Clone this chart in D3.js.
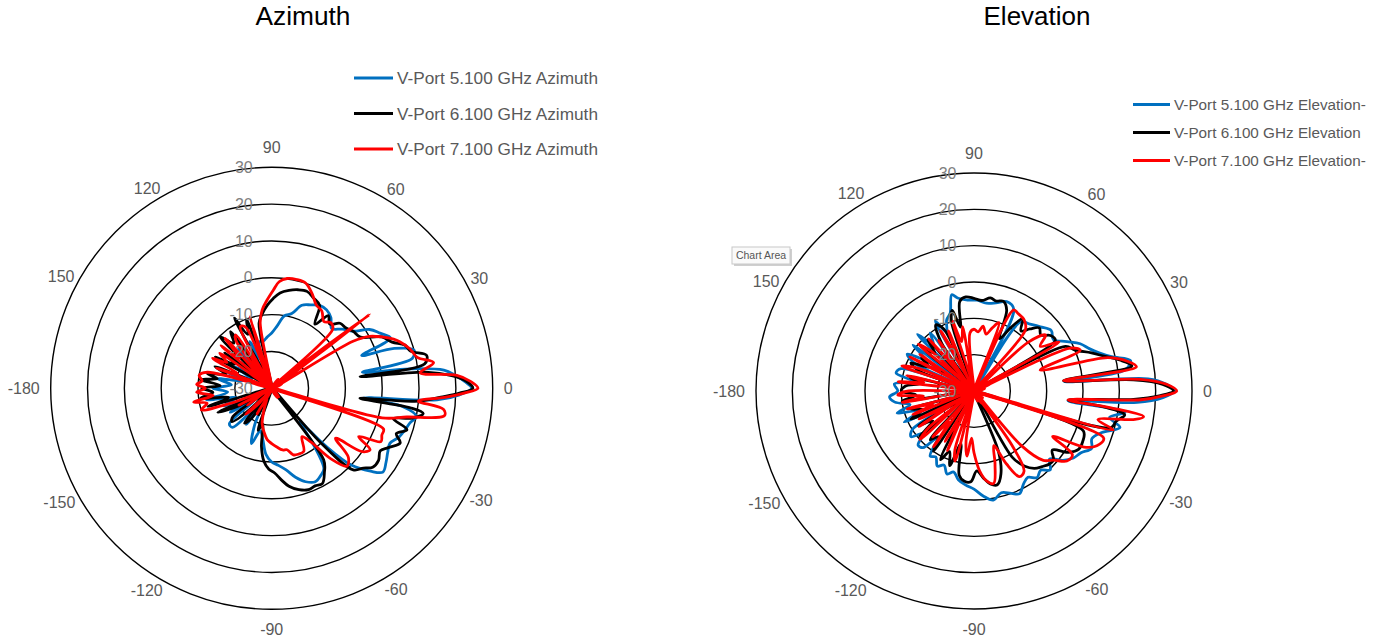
<!DOCTYPE html>
<html><head><meta charset="utf-8">
<script src="https://cdn.jsdelivr.net/npm/d3@7"></script>
<style>
body{margin:0;background:#fff;}
svg{display:block;}
text{font-family:"Liberation Sans",Arial,sans-serif;}
</style>
</head><body>
<svg id="chart" width="1385" height="640"></svg>
<script>
// ---------- tick labels ----------
const radialTicks = [-30, -20, -10, 0, 10, 20, 30];
const angleTicks = [0, 30, 60, 90, 120, 150, -180, -150, -120, -90, -60, -30];
const titles = ["Azimuth", "Elevation"];
const azNames = ["V-Port 5.100 GHz Azimuth", "V-Port 6.100 GHz Azimuth", "V-Port 7.100 GHz Azimuth"];
const elNames = ["V-Port 5.100 GHz Elevation-", "V-Port 6.100 GHz Elevation", "V-Port 7.100 GHz Elevation-"];

// ---------- Azimuth series (angle deg, gain dB) ----------
const azBlueAng = [-180,-175,-170,-165,-160,-155,-150,-145,-140,-135,-130,-125,-120,-115,-110,-105,-100,-95,-90,-85,-80,-75,-70,-65,-60,-57,-53,-50,-47,-44,-40,-37,-33,-29,-25,-21,-17,-14,-11,-8,-6,-4,-2,0,2,4,6,8,10,12,15,18,20,23,27,31,35,40,45,50,55,60,65,70,75,80,85,90,95,100,105,110,115,120,125,130,135,140,145,150,155,160,165,170,175];
const azBlueDb  = [-14,-18,-12,-20,-16,-22,-17,-24,-15,-15,-22,-18,-25,-19,-14,-18,-16,-12,-10,-9,-7.5,-5,-3,-2,-3,-4,-12,-18,-9,0,5,7.8,7,6,5.4,7,8,8.7,10,6,-5,15,21,24.3,22.5,20,17,8,-5,9,10,5,-4,5,3,1,-3,-5,-7,-5,-4,-4,-5,-6,-9,-10,-13,-15,-16,-17,-17,-22,-16,-24,-18,-16,-25,-19,-23,-18,-24,-17,-22,-15,-19];

const azBlackAng = [-180,-176,-172,-168,-164,-160,-156,-152,-148,-144,-140,-136,-132,-128,-124,-120,-116,-112,-108,-104,-100,-96,-92,-88,-84,-80,-75,-70,-66,-62,-58,-54,-51,-48,-45,-41,-38,-34,-30,-27,-23,-20,-17,-14,-12,-9.4,-8,-6.5,-5,-3,-1.5,0,2,4,6,7.5,9,12,15,18,21,25,30,35,39,43.6,48,52,56,60,65,70,75,80,85,89,93,97,101,105,110,114,118,122,126,130,135,139,143,147,151,155,159,163,167,170,173,177];
const azBlackDb  = [-11,-14,-10.5,-18,-12,-31,-14,-20,-32,-17,-15.9,-22,-33,-18,-20,-27,-22,-31,-18,-20,-14,-10,-8,-7,-5,-3,-1.5,-0.7,-1,-0.7,-3,-6,-32,-10,1.3,3,4.8,5,4,5.5,7.9,6,8.4,4,9,11.7,8,-5.9,10,16,21,24.6,23,19,12,-5.8,12,13,9,8,5,3,-2.2,-3,-4,-4.4,-6.5,-5,-9,-4,-3,-2,-2.3,-3,-4,-5.6,-7.4,-9.5,-12,-30.5,-10,-14,-8.4,-32,-11,-14,-10.2,-31,-14,-18,-12.5,-31,-13.5,-17,-12,-15,-10.4,-16];

const azRedAng = [-180,-177,-173,-170,-167,-163,-160,-157,-153,-150,-145,-140,-135,-130,-125,-120,-115,-110,-105,-100,-95,-90,-85,-80,-76,-72,-68,-63,-58,-54,-50,-46,-42,-38,-35,-32,-29,-26,-23,-20,-18,-15,-12,-9,-7,-5,-3,-1.5,0,2,4,6,9,12,16,20,22,25,28,30,33,37,40,44,48,52,57,62,67,72,77,82,86,89,93,97,100,103,107,110,113,117,120,124,127,130,133,137,140,143,146,150,153,157,160,163,166,170,174,177];
const azRedDb  = [-12,-9.6,-14,-8.5,-12,-10,-18,-33,-20,-26,-22,-34,-20,-25,-33,-22,-27,-24,-20,-18,-16,-15,-14,-13,-12.8,-11,-10.7,-10.8,-14.5,-12,-5,-0.6,-2,-8,0,1.5,-3,3,2.5,2.3,-32,1,7.5,17.5,17,10,17,22,26,24,20.4,10.5,14.5,10.4,9,7,5.7,3,0,-4.5,-31,3.3,-31,-7,-6,-7,-5,-4.3,-2,0,0.3,0.1,-1,-3.3,-6,-8.6,-12,-31,-9.7,-30.5,-12,-11.2,-33,-12.5,-14,-33,-11.4,-18,-12,-30.5,-13,-16,-12,-20,-14,-32,-12,-10,-11,-9.6];

// ---------- Elevation series ----------
const elBlueAng = [-180,-176,-172,-168,-164,-160,-156,-152,-148,-144,-140,-136,-132,-128,-124,-120,-116,-112,-108,-104,-100,-95,-90,-85,-80,-75,-70,-66,-62,-58,-54,-50,-46,-42,-38,-34,-30,-26,-22,-18,-14,-11,-8,-6,-4,-2,0,2,4,6,8,11,14,17,20,24,28,33,38,44,50,56,60,64,70,76,82,88,94,100,103,107,111,115,119,123,127,131,135,139,143,147,151,155,159,163,167,171,175];
const elBlueDb  = [-9,-6.7,-8,-12,-8,-14,-9,-31,-10,-8.6,-12,-8.6,-9,-14,-8.4,-9,-7,-8,-6,-7,-5.2,-4,-3,-1,0.5,-1,0,0.9,-1,-2,-0.5,-1.5,0.2,-2,1,3,4,6,5,7,11.4,8,12,-4,15,22,25.3,23,18,-5,12,13.9,9,6,3.9,2,-1,-4,-3,-4.6,-6,-7.1,-30.5,-5,-3.8,-5,-5.6,-5,-4.9,-4,-2.8,-7.6,-9,-12,-8,-31,-10,-13,-8,-32,-9,-14,-9,-12,-31,-9,-8,-13,-8];

const elBlackAng = [-180,-176,-172,-168,-164,-160,-156,-152,-148,-144,-140,-136,-132,-128,-124,-120,-116,-112,-108,-104,-100,-96,-92,-88,-84,-80,-76,-72,-68,-64,-60,-56,-52,-48,-44,-41,-37,-33,-29,-25,-20,-18,-15,-12,-9,-7,-5.5,-3,-1.5,0,2,4,6.5,9,12,15,18,22,26,29,32,36,40,44,48,52,56,60,64,68,72,76,80,85,90,95,99,102,105,108,112,116,120,124,128,132,136,140,144,148,152,156,160,164,168,172,176];
const elBlackDb  = [-10,-14,-10,-31,-12,-15,-11,-32,-12,-16,-10.5,-31,-12,-14,-10,-30.5,-9,-12,-8.4,-15,-6.5,-5,-5,-8,-6,-4,-3.4,-6,-12,-31,-9,-5,-3,-2,-1.1,-1,-3,1,3,3,2,-32,9,10,12,6,-4,14,21,24.9,22,14,-5.2,14,11,7,4,0,-2,-31,-3.6,-4,-6,-5,-7,-9,-6,-10,-14,-6,-4,-4.5,-4,-5,-4.5,-4,-5,-12,-7,-10,-31,-11,-9,-14,-32,-11,-15,-12,-31,-13,-16,-11,-14,-31,-12,-15,-11];

const elRedAng = [-180,-177,-174,-171,-168,-165,-162,-159,-156,-153,-150,-147,-144,-141,-138,-135,-132,-129,-126,-123,-120,-117,-114,-111,-108,-105,-102,-99,-96,-93,-90,-86,-82,-78,-74,-70,-66,-62,-58,-55,-52,-49,-45,-41,-37,-33,-30,-27,-24,-20,-17,-15.6,-13,-10,-8.6,-7,-5.4,-3,-1.5,0,2,4,6.6,8.5,11,14,17.6,21,24,27,30,34,38,42,46,50,55,60,64,67,70,74,78,82,86,90,94,97,100,104,107,110,113,116,119,122,125,128,131,134,137,140,143,146,149,152,155,158,161,164,167,170,173,176];
const elRedDb  = [-12,-9,-16,-10,-33,-11,-18,-12,-35,-13,-20,-12,-34,-14,-10,-33,-13,-19,-11,-32,-14,-20,-12,-33,-13,-10,-31,-16,-12,-17,-13,-8,-5,-4,-9,-14,-8,-3.3,-4,-12,-31,-10,-3,-1,2,2.3,-5,4,7,8,-31,9.8,5,15,17.2,8,-4,16,22,25.8,23,16,-5.2,15.2,13,8,-10.9,1.3,-1,-31,-3,-8,-5,-10,-30.5,-8,-6,-5.5,-5.2,-31,-10,-12,-14,-12,-13.7,-13,-14,-31,-12,-16,-10,-33,-12,-18,-11,-34,-13,-20,-11,-32,-14,-10,-33,-12,-19,-10,-32,-13,-9,-31,-11,-16,-9,-32];

const seriesColors = ["#0070C0", "#000000", "#FF0000"];

// ---------- layout ----------
const charts = [
  {title: titles[0], tx: 303, titleW: 95, cx: 271.7, cy: 388.3, R: 221, radX: 19,
   names: azNames, legX: 354, legLen: 39, legW: 201, legY: [78, 113.5, 149],
   series: [[azBlueAng, azBlueDb], [azBlackAng, azBlackDb], [azRedAng, azRedDb]]},
  {title: titles[1], tx: 1037, titleW: 107, cx: 974, cy: 391, R: 218, radX: 17.5,
   names: elNames, legX: 1133, legLen: 37, legW: 192, legY: [104.5, 132.5, 160.5],
   series: [[elBlueAng, elBlueDb], [elBlackAng, elBlackDb], [elRedAng, elRedDb]]}
];

const svg = d3.select("#chart");
svg.append("rect").attr("width", 1385).attr("height", 640).attr("fill", "#fff");

function fitFont(sel, base, target) {
  const w = sel.node().getComputedTextLength();
  sel.attr("font-size", base * target / w);
}

charts.forEach(ch => {
  const r = d3.scaleLinear().domain([-30, 30]).range([0, ch.R]); // unclamped: values below -30 fall through centre
  const g = svg.append("g").attr("transform", `translate(${ch.cx},${ch.cy})`);

  // rings
  g.selectAll("circle.ring").data(radialTicks.filter(t => t > -30)).join("circle")
    .attr("class", "ring").attr("r", d => r(d))
    .attr("fill", "none").attr("stroke", "#000").attr("stroke-width", 1.4);

  // series
  ch.series.forEach((s, i) => {
    const pts = s[0].map((a, k) => [a, s[1][k]]);
    const line = d3.lineRadial()
      .angle(d => (90 - d[0]) * Math.PI / 180)
      .radius(d => r(d[1]))
      .curve(d3.curveCatmullRomClosed.alpha(0.5));
    g.append("path").attr("d", line(pts))
      .attr("fill", "none").attr("stroke", seriesColors[i])
      .attr("stroke-width", 2.8).attr("stroke-linejoin", "round");
  });

  // radial labels
  g.selectAll("text.rad").data(radialTicks).join("text")
    .attr("class", "rad")
    .attr("x", -ch.radX).attr("y", d => -r(d)).attr("dy", "0.35em")
    .attr("text-anchor", "end").attr("font-size", 16).attr("fill", "#808080")
    .text(d => d);

  // angle labels
  g.selectAll("text.ang").data(angleTicks).join("text")
    .attr("class", "ang")
    .attr("font-size", 16).attr("fill", "#595959")
    .attr("text-anchor", "middle").attr("dy", "0.35em")
    .text(d => d)
    .each(function(d) {
      const w = this.getComputedTextLength();
      const t0 = d * Math.PI / 180;
      const th = (d - 2 * Math.sin(2 * t0)) * Math.PI / 180;
      const c = Math.cos(t0), sn = Math.sin(t0);
      const dist = ch.R + 9 + (w / 2 + 2) * c * c + 11 * sn * sn - 6 * Math.abs(Math.sin(2 * t0));
      const up = sn > 0 ? 1 : 0;
      d3.select(this).attr("x", dist * Math.cos(th)).attr("y", -dist * Math.sin(th) + up * 2 * Math.abs(Math.sin(2 * t0)));
    });

  // title
  const t = svg.append("text").attr("x", ch.tx).attr("y", 25).attr("text-anchor", "middle")
    .attr("font-size", 24).attr("fill", "#000").text(ch.title);
  fitFont(t, 24, ch.titleW);

  // legend
  ch.names.forEach((n, i) => {
    svg.append("line").attr("x1", ch.legX).attr("x2", ch.legX + ch.legLen)
      .attr("y1", ch.legY[i]).attr("y2", ch.legY[i])
      .attr("stroke", seriesColors[i]).attr("stroke-width", 2.8);
    const lt = svg.append("text").attr("x", ch.legX + ch.legLen + 4).attr("y", ch.legY[i]).attr("dy", "0.35em")
      .attr("font-size", 15).attr("fill", "#595959").text(n);
    if (i === 0) ch.legFont = 15 * ch.legW / lt.node().getComputedTextLength();
    lt.attr("font-size", ch.legFont);
  });
});

// Excel tooltip seen in the screenshot
const tip = svg.append("g").attr("transform", "translate(732,247)");
tip.append("rect").attr("x", 2).attr("y", 2).attr("width", 58).attr("height", 17).attr("fill", "#cfcfcf");
tip.append("rect").attr("width", 58).attr("height", 17).attr("fill", "#fafafa").attr("stroke", "#c8c8c8");
tip.append("text").attr("x", 29).attr("y", 8.5).attr("dy", "0.35em").attr("text-anchor", "middle")
  .attr("font-size", 10.5).attr("fill", "#555").text("Chart Area");
</script>
</body></html>
